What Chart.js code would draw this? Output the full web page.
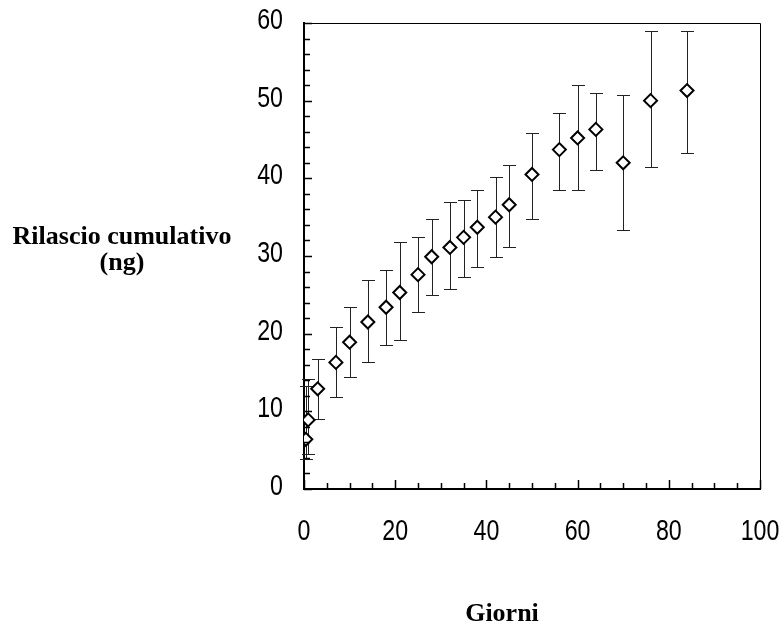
<!DOCTYPE html>
<html>
<head>
<meta charset="utf-8">
<script src="https://cdn.jsdelivr.net/npm/chart.js@4"></script>
<style>
  html, body { margin: 0; padding: 0; background: #fff; }
  #wrap { width: 784px; height: 629px; }
</style>
</head>
<body>
<div id="wrap"><canvas id="myChart"></canvas></div>
<script>
// dati
const giorni = [0.4, 0.9, 3, 7, 10, 14, 18, 21, 25, 28, 32, 35, 38, 42, 45, 50, 56, 60, 64, 70, 76, 84];
const rilascio = [6.4, 8.9, 12.9, 16.3, 18.9, 21.5, 23.4, 25.3, 27.6, 29.9, 31.1, 32.4, 33.7, 35.0, 36.6, 40.5, 43.7, 45.2, 46.3, 42.0, 50.0, 51.3];
const erroreMin = [3.8, 4.5, 9.0, 11.9, 14.4, 16.4, 18.6, 19.2, 22.8, 25.0, 25.7, 27.3, 28.6, 29.9, 31.1, 34.7, 38.5, 38.5, 41.1, 33.4, 41.5, 43.3];
const erroreMax = [13.2, 14.1, 16.7, 20.8, 23.4, 26.9, 28.2, 31.8, 32.4, 34.7, 36.9, 37.2, 38.5, 40.2, 41.7, 45.9, 48.4, 52.0, 51.0, 50.7, 59.0, 59.0];
const tickX = [0, 20, 40, 60, 80, 100];
const tickY = [0, 10, 20, 30, 40, 50, 60];

const fontNum = "29px 'Liberation Sans', Arial, sans-serif";
const fontTit = "bold 26px 'Liberation Serif', 'Times New Roman', serif";

const punti = giorni.map((g, i) => ({x: g, y: rilascio[i]}));

// barre di errore
const barreErrore = {
  id: 'barreErrore',
  beforeDatasetsDraw(chart) {
    const ctx = chart.ctx, sx = chart.scales.x, sy = chart.scales.y;
    ctx.save();
    ctx.strokeStyle = '#222';
    ctx.lineWidth = 1;
    giorni.forEach((g, i) => {
      const px = Math.round(sx.getPixelForValue(g)) + 0.5;
      const y1 = Math.round(sy.getPixelForValue(erroreMin[i])) + 0.5;
      const y2 = Math.round(sy.getPixelForValue(erroreMax[i])) + 0.5;
      ctx.beginPath();
      ctx.moveTo(px, y1); ctx.lineTo(px, y2);
      ctx.moveTo(px - 6.5, y1); ctx.lineTo(px + 6.5, y1);
      ctx.moveTo(px - 6.5, y2); ctx.lineTo(px + 6.5, y2);
      ctx.stroke();
    });
    ctx.restore();
  }
};

// cornice, tacche interne, etichette e titoli
const cornice = {
  id: 'cornice',
  afterDraw(chart) {
    const ctx = chart.ctx, a = chart.chartArea;
    const sx = chart.scales.x, sy = chart.scales.y;
    ctx.save();
    ctx.strokeStyle = '#000';
    ctx.lineWidth = 1;
    ctx.beginPath();
    ctx.moveTo(a.left, a.top + 0.5); ctx.lineTo(a.right + 0.5, a.top + 0.5); ctx.lineTo(a.right + 0.5, a.bottom);
    ctx.stroke();
    ctx.lineWidth = 1.5;
    ctx.beginPath();
    for (let v = 0; v <= 100; v += 5) {
      const px = Math.round(sx.getPixelForValue(v)) + 0.5;
      const len = v % 20 === 0 ? 9 : 6;
      ctx.moveTo(px, a.bottom); ctx.lineTo(px, a.bottom - len);
    }
    for (let v = 0; v <= 60; v += 2) {
      const py = Math.round(sy.getPixelForValue(v)) + 0.5;
      const len = v % 10 === 0 ? 8 : 6;
      ctx.moveTo(a.left, py); ctx.lineTo(a.left + len, py);
    }
    ctx.stroke();

    // etichette dei tick, un po' strette come nell'originale
    ctx.fillStyle = '#000';
    ctx.font = fontNum;
    ctx.textBaseline = 'middle';
    ctx.textAlign = 'right';
    tickY.forEach(v => {
      ctx.save();
      ctx.translate(a.left - 21, sy.getPixelForValue(v) - 2);
      ctx.scale(0.8, 1);
      ctx.fillText(String(v), 0, 0);
      ctx.restore();
    });
    ctx.textAlign = 'center';
    tickX.forEach(v => {
      ctx.save();
      ctx.translate(sx.getPixelForValue(v), a.bottom + 43);
      ctx.scale(0.8, 1);
      ctx.fillText(String(v), 0, 0);
      ctx.restore();
    });

    ctx.font = fontTit;
    ctx.textAlign = 'center';
    ctx.textBaseline = 'alphabetic';
    ctx.fillText('Rilascio cumulativo', 122, 244);
    ctx.fillText('(ng)', 122, 270);
    ctx.fillText('Giorni', 502, 621);
    ctx.restore();
  }
};

const noPad = s => { s.paddingLeft = 0; s.paddingRight = 0; s.paddingTop = 0; s.paddingBottom = 0; };

const ctx = document.getElementById('myChart');
const configuracion = {
  type: 'scatter',
  data: {
    datasets: [{
      data: punti,
      pointStyle: 'rectRot',
      pointRadius: 6.5,
      pointBorderWidth: 2,
      borderColor: '#000',
      backgroundColor: '#fff'
    }]
  },
  options: {
    responsive: true,
    maintainAspectRatio: false,
    animation: false,
    layout: { padding: { top: 23, right: 24, left: 0, bottom: 0 } },
    plugins: { legend: { display: false }, tooltip: { enabled: false } },
    scales: {
      x: {
        min: 0, max: 100,
        afterBuildTicks: s => { s.ticks = tickX.map(v => ({value: v})); },
        afterFit: s => { s.height = 629 - 489; noPad(s); },
        grid: { display: false, drawTicks: false },
        border: { display: true, color: '#000', width: 2 },
        ticks: { display: false }
      },
      y: {
        min: 0, max: 60,
        afterBuildTicks: s => { s.ticks = tickY.map(v => ({value: v})); },
        afterFit: s => { s.width = 304; noPad(s); },
        grid: { display: false, drawTicks: false },
        border: { display: true, color: '#000', width: 2 },
        ticks: { display: false }
      }
    }
  },
  plugins: [barreErrore, cornice]
};

const grafica = new Chart(ctx, configuracion);
</script>
</body>
</html>
